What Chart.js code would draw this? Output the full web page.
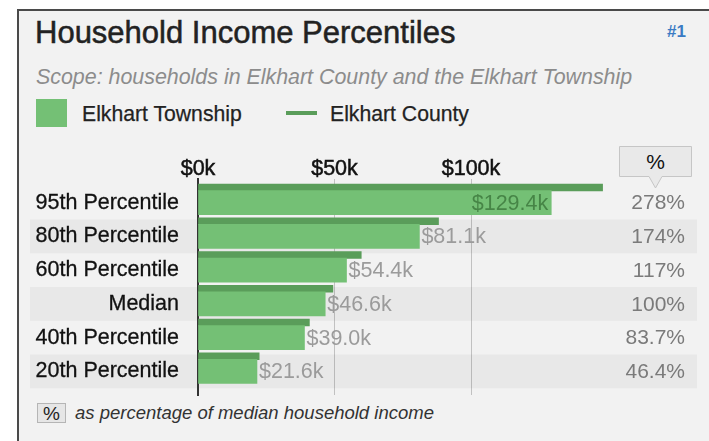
<!DOCTYPE html>
<html>
<head>
<meta charset="utf-8">
<title>Household Income Percentiles</title>
<script src="https://cdn.jsdelivr.net/npm/chart.js@4/dist/chart.umd.min.js"></script>
<style>
  html, body { margin: 0; padding: 0; background: #ffffff; }
  body { width: 709px; height: 441px; overflow: hidden; position: relative;
         font-family: 'Liberation Sans', Arial, Helvetica, sans-serif; }
  .abs { position: absolute; white-space: nowrap; }
  #panel { left: 17px; top: 9px; width: 740px; height: 480px; background: #f2f2f2;
           border: 2px solid #4a4a4a; }
  #title { left: 35px; top: 16.5px; font-size: 31px; line-height: 31px; color: #222;
           -webkit-text-stroke: 0.5px #222; }
  #rank { left: 667px; top: 22.5px; font-size: 17px; line-height: 17px; font-weight: bold; color: #3b7bc4; }
  #scope { left: 36px; top: 66.5px; font-size: 21.4px; line-height: 21.4px; font-style: italic; color: #8c8c8c; }
  .swatch { left: 36px; top: 99px; width: 31px; height: 28px; background: #74c075; }
  .lineKey { left: 286px; top: 111px; width: 31px; height: 4px; background: #5a9d5a; }
  .legendText { top: 102.5px; font-size: 21.2px; line-height: 21.2px; color: #222;
                -webkit-text-stroke: 0.25px #222; }
  #pctHead { left: 619px; top: 146px; }
  #note { left: 75px; top: 404px; font-size: 18.5px; line-height: 18.5px; font-style: italic; color: #333; }
  #noteBox { left: 37px; top: 403px; width: 27px; height: 18px; background: #e6e6e6;
             border: 1px solid #b5b5b5; font-size: 19px; line-height: 19px; text-align: center; color: #222; }
  canvas { position: absolute; left: 0; top: 0; }
</style>
</head>
<body>
<div id="panel" class="abs"></div>
<div id="title" class="abs">Household Income Percentiles</div>
<div id="rank" class="abs">#1</div>
<div id="scope" class="abs">Scope: households in Elkhart County and the Elkhart Township</div>
<div class="abs swatch"></div>
<div class="abs legendText" style="left:82px">Elkhart Township</div>
<div class="abs lineKey"></div>
<div class="abs legendText" style="left:330px">Elkhart County</div>
<svg id="pctHead" class="abs" width="74" height="45" viewBox="0 0 74 45">
  <path d="M0.5 0.5 H72.5 V30.5 H43 L36.5 42 L30 30.5 H0.5 Z" fill="#e9e9e9" stroke="#c6c6c6" stroke-width="1"/>
  <text x="36.5" y="23" text-anchor="middle" font-family="'Liberation Sans', Arial, sans-serif" font-size="21" fill="#111">%</text>
</svg>
<div id="noteBox" class="abs">%</div>
<div id="note" class="abs">as percentage of median household income</div>
<canvas id="chart" width="709" height="441"></canvas>

<script>
// Household income at each percentile, in thousands of dollars
const categories = ['95th Percentile', '80th Percentile', '60th Percentile', 'Median', '40th Percentile', '20th Percentile'];
const townshipIncome = [129.4, 81.1, 54.4, 46.6, 39.0, 21.6];
const countyIncome = [148.2, 88.1, 59.8, 49.4, 40.8, 22.4];
// Township values as a share of the township median
const pctOfMedian = ['278%', '174%', '117%', '100%', '83.7%', '46.4%'];
const xTickValues = [0, 50, 100];

const FONT = "'Liberation Sans', Arial, Helvetica, sans-serif";
const rowPad = 0.2;        // extra room above the first row and below the last
const countyShift = 0.447; // county strip sits just above the township bar

// Alternating shaded rows behind the bars
const rowBands = {
  id: 'rowBands',
  beforeDraw(chart) {
    const { ctx } = chart;
    const y = chart.scales.y;
    ctx.save();
    ctx.fillStyle = '#e8e8e8';
    categories.forEach((_, i) => {
      if (i % 2 === 1) {
        const top = y.getPixelForValue(i - 0.5);
        const bottom = y.getPixelForValue(i + 0.5);
        ctx.fillRect(30, top, 667, bottom - top);
      }
    });
    ctx.restore();
  }
};

// Dollar value at the end of each township bar and the percentage column
const valueLabels = {
  id: 'valueLabels',
  afterDraw(chart) {
    const { ctx, chartArea } = chart;
    const y = chart.scales.y;
    const bars = chart.getDatasetMeta(0).data;
    ctx.save();
    ctx.textBaseline = 'middle';
    ctx.font = '21.5px ' + FONT;
    bars.forEach((bar, i) => {
      const text = '$' + townshipIncome[i].toFixed(1) + 'k';
      const w = ctx.measureText(text).width;
      if (bar.x + 4 + w > chartArea.right) {
        ctx.textAlign = 'right';
        ctx.fillStyle = 'rgba(62, 122, 62, 0.85)';
        ctx.fillText(text, bar.x - 3, bar.y + 1);
      } else {
        ctx.textAlign = 'left';
        ctx.fillStyle = '#9b9b9b';
        ctx.fillText(text, bar.x + 2, bar.y + 1);
      }
    });
    ctx.font = '21px ' + FONT;
    ctx.textAlign = 'right';
    ctx.fillStyle = '#7a7a7a';
    categories.forEach((_, i) => {
      ctx.fillText(pctOfMedian[i], 685, y.getPixelForValue(i) + 1);
    });
    ctx.restore();
  }
};

new Chart(document.getElementById('chart'), {
  type: 'bar',
  data: {
    datasets: [
      {
        label: 'Elkhart Township',
        data: townshipIncome.map((v, i) => ({ x: v, y: i })),
        yAxisID: 'y',
        backgroundColor: '#74c075',
        barThickness: 24,
        grouped: false,
        order: 1
      },
      {
        label: 'Elkhart County',
        data: countyIncome.map((v, i) => ({ x: v, y: i })),
        yAxisID: 'yc',
        backgroundColor: '#5a9d5a',
        barThickness: 7,
        grouped: false,
        order: 2
      }
    ]
  },
  options: {
    indexAxis: 'y',
    responsive: false,
    animation: false,
    events: [],
    layout: { padding: { left: 0, top: 140, right: 101.5, bottom: 46 } },
    plugins: { legend: { display: false }, tooltip: { enabled: false } },
    scales: {
      x: {
        type: 'linear',
        position: 'top',
        min: 0,
        max: 150,
        z: 1,
        afterBuildTicks: s => { s.ticks = xTickValues.map(v => ({ value: v })); },
        afterFit: s => { s.height = 39; },
        border: { display: false },
        grid: {
          drawTicks: false,
          lineWidth: 1,
          color: c => (c.tick && c.tick.value === 0) ? 'rgba(0,0,0,0)' : 'rgba(0,0,0,0.2)'
        },
        ticks: {
          padding: -3,
          color: '#111',
          textStrokeColor: '#111',
          textStrokeWidth: 0.5,
          autoSkip: false,
          maxRotation: 0,
          font: { family: FONT, size: 21.5 },
          callback: v => '$' + v + 'k'
        }
      },
      y: {
        type: 'linear',
        axis: 'y',
        position: 'left',
        offset: false,
        reverse: true,
        min: -0.5 - rowPad,
        max: categories.length - 0.5 + rowPad,
        z: 1,
        afterBuildTicks: s => { s.ticks = categories.map((_, i) => ({ value: i })); },
        afterFit: s => { s.width = 198; },
        border: { display: true, color: '#333', width: 2 },
        grid: { display: true, offset: false, drawTicks: false, color: 'rgba(0,0,0,0)' },
        ticks: {
          padding: 19,
          color: '#111',
          textStrokeColor: '#111',
          textStrokeWidth: 0.3,
          autoSkip: false,
          font: { family: FONT, size: 21.5 },
          callback: v => categories[v]
        }
      },
      yc: {
        type: 'linear',
        axis: 'y',
        position: 'left',
        display: false,
        offset: false,
        grid: { offset: false },
        reverse: true,
        min: -0.5 - rowPad + countyShift,
        max: categories.length - 0.5 + rowPad + countyShift
      }
    }
  },
  plugins: [rowBands, valueLabels]
});
</script>
</body>
</html>
